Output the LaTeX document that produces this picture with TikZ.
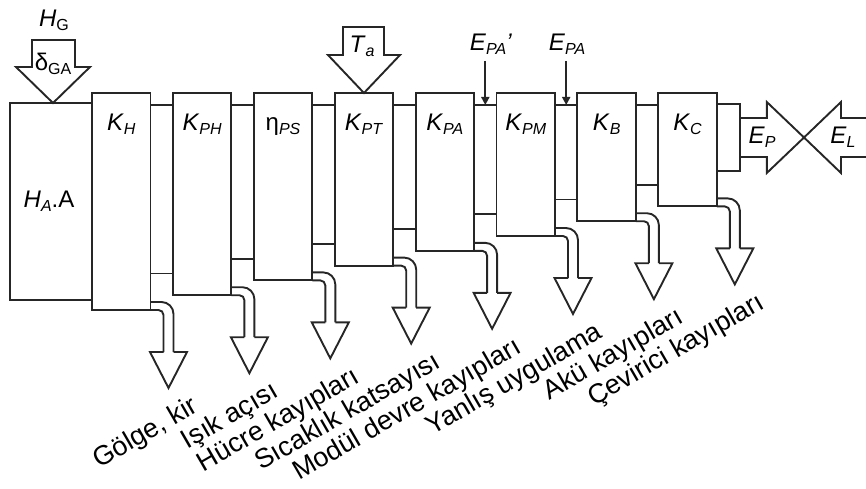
\documentclass[tikz,border=0pt]{standalone}
\usepackage{fontspec}
\setmainfont{Liberation Sans}
\usetikzlibrary{calc,arrows.meta}
\newcommand{\sbx}[2]{#1\raisebox{-4pt}{\fontsize{16}{16}\selectfont #2}}
\newcommand{\ita}[1]{\textit{#1}}
\begin{document}
\begin{tikzpicture}[x=1pt,y=-1pt,
  every node/.style={font=\fontsize{24}{28}\selectfont, inner sep=0pt, outer sep=0pt},
  ln/.style={line width=1.9pt, draw=black!85, line join=miter},
  box/.style={ln, draw, fill=white, rectangle, minimum width=58.5pt},
  pipe/.style={ln},
  thin/.style={line width=1.8pt, draw=black!85, -{Triangle[length=8pt,width=8pt]}},
  loss/.style={rotate=30, anchor=north east, font=\fontsize{27}{31}\selectfont}]
\useasboundingbox (0,0) rectangle (866,489);
% source box
\node[box, minimum width=82pt, minimum height=197pt, anchor=north west] (HA) at (10,103) {};
\draw[line width=2.8pt, black!85] (HA.south west) -- (HA.south east);
\node (tHA) at (49,201) {\sbx{\ita{H}}{\ita{A}}.A};
% loss boxes
\foreach \n [count=\i from 0] in {KH,KPH,ePS,KPT,KPA,KPM,KB,KC} {
  \pgfmathsetmacro\xl{92+80.9*\i}
  \pgfmathsetmacro\hh{310-14.8*\i-93}
  \node[box, minimum height=\hh pt, anchor=north west] (\n) at (\xl,93) {};
}
% labels in boxes
\node[anchor=base] (tKH)  at ($(KH.north)+(0,38)$)  {\sbx{\ita{K}}{\ita{H}}};
\node[anchor=base] (tKPH) at ($(KPH.north)+(0,38)$) {\sbx{\ita{K}}{\ita{PH}}};
\node[anchor=base] (tePS) at ($(ePS.north)+(0,38)$) {\sbx{η}{\ita{PS}}};
\node[anchor=base] (tKPT) at ($(KPT.north)+(0,38)$) {\sbx{\ita{K}}{\ita{PT}}};
\node[anchor=base] (tKPA) at ($(KPA.north)+(0,38)$) {\sbx{\ita{K}}{\ita{PA}}};
\node[anchor=base] (tKPM) at ($(KPM.north)+(0,38)$) {\sbx{\ita{K}}{\ita{PM}}};
\node[anchor=base] (tKB)  at ($(KB.north)+(0,38)$)  {\sbx{\ita{K}}{\ita{B}}};
\node[anchor=base] (tKC)  at ($(KC.north)+(0,38)$)  {\sbx{\ita{K}}{\ita{C}}};
% ducts between boxes
\foreach \a/\b in {KH/KPH,KPH/ePS,ePS/KPT,KPT/KPA,KPA/KPM,KPM/KB,KB/KC} {
  \draw[ln] ($(\a.north east)+(0,12)$) -- ($(\b.north west)+(0,12)$);
  \draw[ln] ($(\a.south east)+(0,-36.5)$) coordinate (tmp) -- (tmp -| \b.west);
}
% loss pipes and hollow arrows
\foreach \n in {KH,KPH,ePS,KPT,KPA,KPM,KB,KC} {
  \draw[pipe, rounded corners=12pt] ($(\n.south east)+(0,-8)$) -| ($(\n.south east)+(23,42)$);
  \draw[pipe, rounded corners=5pt] (\n.south east) -| ($(\n.south east)+(13,42)$);
  \draw[pipe] ($(\n.south east)+(13,42)$) -- ++(-13.5,0) -- ++(18.5,36) -- ++(18.5,-36) -- ++(-13.5,0);
}
% loss labels
\node[loss] (lKH)  at ($(KH.south east)+(39,84)$)  {Gölge, kir};
\node[loss] (lKPH) at ($(KPH.south east)+(39,84)$) {Işık açısı};
\node[loss] (lePS) at ($(ePS.south east)+(39,84)$) {Hücre kayıpları};
\node[loss] (lKPT) at ($(KPT.south east)+(39,84)$) {Sıcaklık katsayısı};
\node[loss] (lKPA) at ($(KPA.south east)+(39,84)$) {Modül devre kayıpları};
\node[loss] (lKPM) at ($(KPM.south east)+(39,84)$) {Yanlış uygulama};
\node[loss] (lKB)  at ($(KB.south east)+(39,84)$)  {Akü kayıpları};
\node[loss] (lKC)  at ($(KC.south east)+(39,84)$)  {Çevirici kayıpları};
% H_G input arrow
\draw[ln, fill=white] (32,40) -- (75,40) -- (75,67) -- (90,67) -- (HA.north -| 53,0) -- (16,67) -- (32,67) -- cycle;
\node (tHG) at (54,20) {\sbx{\ita{H}}{G}};
\node (tdGA) at (53,64) {\sbx{δ}{GA}};
% T_a input arrow
\draw[ln, fill=white] (343,27) -- (384,27) -- (384,55) -- (400,55) -- (KPT.north) -- (328,55) -- (343,55) -- cycle;
\node (tTa) at (362,46) {\sbx{\ita{T}}{\ita{a}}};
% E_PA' and E_PA
\coordinate (c1) at ($(KPA.north east)!0.5!(KPM.north west)+(0,12)$);
\coordinate (c2) at ($(KPM.north east)!0.5!(KB.north west)+(0,12)$);
\node (lE1) at (491,44) {\sbx{\ita{E}}{\ita{PA}}\ita{'}};
\node (lE2) at (567,44) {\sbx{\ita{E}}{\ita{PA}}};
\draw[thin] (c1 |- 0,61) -- (c1);
\draw[thin] (c2 |- 0,61) -- (c2);
% end cap and E_P / E_L
\node[box, minimum width=23pt, minimum height=67pt, anchor=north west] (cap) at ($(KC.north east)+(0,11)$) {};
\coordinate (X) at (804,137.5);
\draw[ln] ($(cap.east)+(0,-19.5)$) -- ++(27,0) -- ++(0,-16) -- (X) -- ($(cap.east)+(27,35.5)$) -- ++(0,-16) -- ($(cap.east)+(0,19.5)$);
\draw[ln] (868,118) -- (841,118) -- (841,102) -- (X) -- (841,173) -- (841,157) -- (868,157);
\node (tEP) at (762,137) {\sbx{\ita{E}}{\ita{P}}};
\node (tEL) at (843,137) {\sbx{\ita{E}}{\ita{L}}};
\end{tikzpicture}
\end{document}
